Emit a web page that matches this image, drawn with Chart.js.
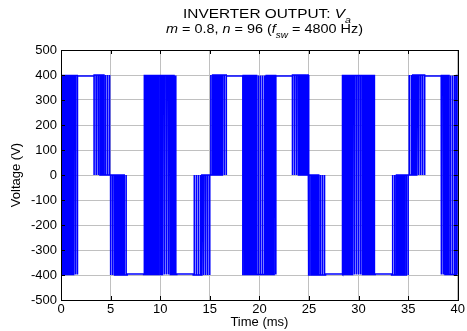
<!DOCTYPE html>
<html>
<head>
<meta charset="utf-8">
<script src="https://cdn.jsdelivr.net/npm/chart.js@4.4.0/dist/chart.umd.min.js"></script>
<style>
  html, body { margin: 0; padding: 0; background: #fff; }
  #wrap { width: 467px; height: 331px; }
</style>
</head>
<body>
<div id="wrap"><canvas id="myChart"></canvas></div>
<script>
// axis ranges / ticks
const xMin = 0, xMax = 40, xStep = 5;      // Time (ms)
const yMin = -500, yMax = 500, yStep = 100; // Voltage (V)

// carrier: fsw = 4800 Hz -> one pulse every 1000/4800 ms
const fsw = 4800;
const periodMs = 1000 / fsw;

// switching bands: start time (ms), upper and lower level (V)
const bandStart = [0, 3.333, 5, 8.333, 13.333, 15, 18.333, 23.333, 25, 28.333, 33.333, 35, 38.333];
const bandHigh  = [398, 400, 0, 398, 0, 400, 398, 400, 0, 398, 0, 400, 398];
const bandLow   = [-398, 0, -400, -398, -400, 0, -398, 0, -400, -398, -400, 0, -398];
// share of each carrier period spent at the upper level (estimated)
const bandDuty = [
  [0.30, 0.34, 0.38, 0.45, 0.52, 0.60, 0.66, 0.74],
  [0.92, 0.82, 0.72, 0.60, 0.50, 0.38, 0.25, 0.14],
  [0.86, 0.75, 0.62, 0.50, 0.40, 0.28, 0.18, 0.08],
  [0.30, 0.38, 0.46, 0.55, 0.62, 0.68, 0.72, 0.75, 0.73, 0.70, 0.66, 0.60, 0.53, 0.45, 0.37, 0.28],
  [0.10, 0.20, 0.30, 0.42, 0.55, 0.66, 0.76, 0.88],
  [0.12, 0.24, 0.36, 0.48, 0.60, 0.72, 0.82, 0.90],
  [0.70, 0.61, 0.52, 0.44, 0.38, 0.33, 0.30, 0.28, 0.29, 0.31, 0.34, 0.40, 0.46, 0.54, 0.62, 0.72],
  [0.90, 0.80, 0.70, 0.61, 0.49, 0.37, 0.26, 0.15],
  [0.85, 0.74, 0.63, 0.51, 0.39, 0.29, 0.17, 0.09],
  [0.29, 0.37, 0.47, 0.54, 0.63, 0.69, 0.73, 0.74, 0.74, 0.71, 0.65, 0.59, 0.52, 0.46, 0.38, 0.30],
  [0.09, 0.19, 0.31, 0.43, 0.54, 0.65, 0.77, 0.87],
  [0.13, 0.25, 0.35, 0.47, 0.61, 0.71, 0.81, 0.91],
  [0.72, 0.64, 0.56, 0.48, 0.42, 0.36, 0.32, 0.29]
];

// flat stretches between bands
const flatStart = [1.667, 6.667, 11.667, 16.667, 21.667, 26.667, 31.667, 36.667];
const flatLevel = [396, -396, -396, 396, 396, -396, -396, 396];

// build list of level changes
var events = [];
for (var i = 0; i < bandStart.length; i++) {
  var d = bandDuty[i];
  for (var j = 0; j < d.length; j++) {
    var t0 = bandStart[i] + j * periodMs;
    events.push([t0, bandLow[i]]);
    events.push([t0 + (1 - d[j]) / 2 * periodMs, bandHigh[i]]);
    events.push([t0 + (1 + d[j]) / 2 * periodMs, bandLow[i]]);
  }
}
for (var k = 0; k < flatStart.length; k++) {
  events.push([flatStart[k], flatLevel[k]]);
}
events.sort(function(a, b) { return a[0] - b[0]; });

var points = [];
var level = events[0][1];
events.forEach(function(e) {
  points.push({x: e[0], y: level});
  points.push({x: e[0], y: e[1]});
  level = e[1];
});
points.push({x: xMax, y: level});

const FONT = "'Liberation Sans', Arial, sans-serif";

// draws a line of mixed italic / subscript pieces, stretched to a given width
function drawRuns(ctx, runs, cx, baseY, size, width) {
  var subSize = Math.round(size * 0.72);
  var total = 0;
  runs.forEach(function(r) {
    ctx.font = (r.it ? 'italic ' : '') + (r.sub ? subSize : size) + 'px ' + FONT;
    r.w = ctx.measureText(r.t).width;
    total += r.w;
  });
  var sx = width / total;
  ctx.save();
  ctx.translate(cx - width / 2, baseY);
  ctx.scale(sx, 1);
  var x = 0;
  runs.forEach(function(r) {
    ctx.font = (r.it ? 'italic ' : '') + (r.sub ? subSize : size) + 'px ' + FONT;
    ctx.fillText(r.t, x, r.sub ? 4.5 : 0);
    x += r.w;
  });
  ctx.restore();
}

// frame, inner ticks and two-line title
const framePlugin = {
  id: 'frame',
  afterDraw: function(chart) {
    var ctx = chart.ctx;
    var a = chart.chartArea;
    var xs = chart.scales.x, ys = chart.scales.y;
    ctx.save();
    ctx.strokeStyle = '#000';
    ctx.lineWidth = 1;
    ctx.beginPath();
    xs.ticks.forEach(function(t) {
      var px = Math.round(xs.getPixelForValue(t.value)) + 0.5;
      ctx.moveTo(px, a.bottom); ctx.lineTo(px, a.bottom - 4);
      ctx.moveTo(px, a.top); ctx.lineTo(px, a.top + 4);
    });
    ys.ticks.forEach(function(t) {
      var py = Math.round(ys.getPixelForValue(t.value)) + 0.5;
      ctx.moveTo(a.left, py); ctx.lineTo(a.left + 4, py);
      ctx.moveTo(a.right, py); ctx.lineTo(a.right - 4, py);
    });
    ctx.stroke();
    ctx.strokeRect(Math.round(a.left) + 0.5, Math.round(a.top) + 0.5,
                   Math.round(a.right - a.left), Math.round(a.bottom - a.top));

    ctx.fillStyle = '#000';
    ctx.textBaseline = 'alphabetic';
    ctx.textAlign = 'left';
    drawRuns(ctx, [
      {t: 'INVERTER OUTPUT: '}, {t: 'V', it: true}, {t: 'a', it: true, sub: true}
    ], 267, 18, 13, 168);
    drawRuns(ctx, [
      {t: 'm', it: true}, {t: ' = 0.8, '}, {t: 'n', it: true}, {t: ' = 96 ('},
      {t: 'f', it: true}, {t: 'sw', it: true, sub: true}, {t: ' = 4800 Hz)'}
    ], 264.5, 33, 13, 197);
    ctx.restore();
  }
};

Chart.defaults.font.family = FONT;
Chart.defaults.font.size = 13;
Chart.defaults.color = '#000';

const ctx = document.getElementById('myChart');
const myChart = new Chart(ctx, {
  type: 'scatter',
  data: {
    datasets: [{
      data: points,
      showLine: true,
      borderColor: '#0000ff',
      borderWidth: 1.6,
      pointRadius: 0,
      fill: false,
      tension: 0
    }]
  },
  options: {
    responsive: true,
    maintainAspectRatio: false,
    animation: false,
    layout: { padding: { top: 50, right: 6, left: 0, bottom: 0 } },
    plugins: { legend: { display: false }, tooltip: { enabled: false } },
    scales: {
      x: {
        type: 'linear', min: xMin, max: xMax,
        afterFit: function(s) { s.height = 31; },
        ticks: { stepSize: xStep, padding: 2, maxRotation: 0 },
        grid: { color: '#c0c0c0', drawTicks: false },
        border: { display: false },
        title: { display: true, text: 'Time (ms)', padding: { top: 0, bottom: 1 } }
      },
      y: {
        min: yMin, max: yMax,
        afterFit: function(s) { s.width = 61; },
        ticks: { stepSize: yStep, padding: 4 },
        grid: { color: '#c0c0c0', drawTicks: false },
        border: { display: false },
        title: { display: true, text: 'Voltage (V)', padding: { top: 9, bottom: 0 } }
      }
    }
  },
  plugins: [framePlugin]
});
</script>
</body>
</html>
